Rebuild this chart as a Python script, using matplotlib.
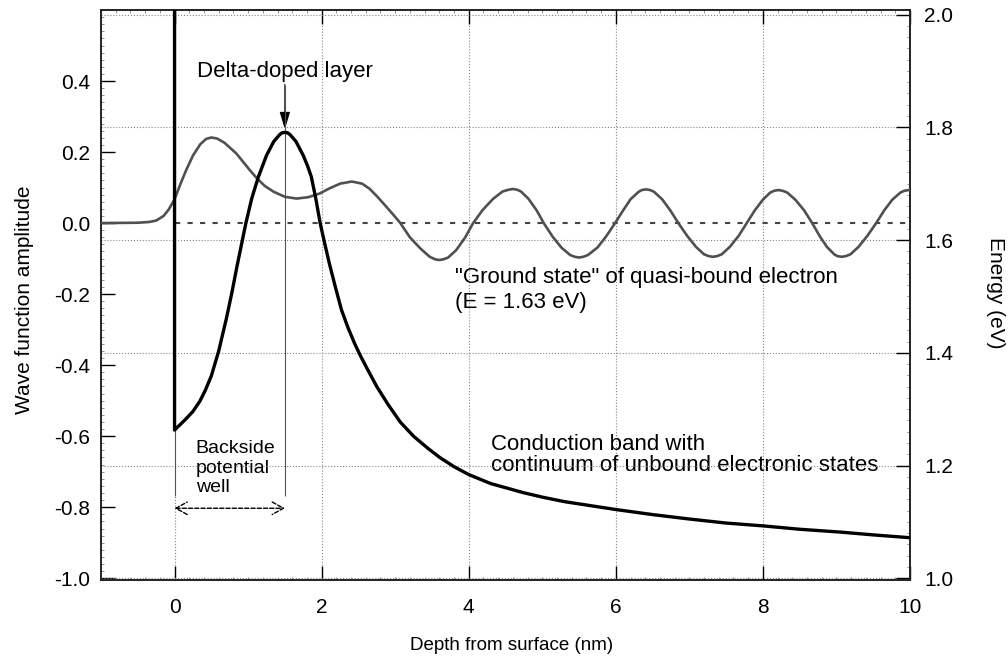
import matplotlib
matplotlib.use('Agg')
import matplotlib.pyplot as plt
from matplotlib.ticker import MultipleLocator

plt.rcParams['font.family'] = ['Liberation Sans', 'DejaVu Sans']
plt.rcParams['axes.unicode_minus'] = False

# wave function of the quasi-bound state (left axis)
wave_x = [-1.0, -0.5, -0.35, -0.25, -0.15, -0.08, 0.0, 0.08, 0.16, 0.25, 0.35, 0.43,
          0.5, 0.58, 0.68, 0.76, 0.84, 0.93, 1.02, 1.12, 1.23, 1.35, 1.5, 1.66, 1.82,
          1.97, 2.1, 2.25, 2.41, 2.55, 2.65, 2.75, 2.85, 2.96, 3.07,
          3.2, 3.34, 3.47, 3.543, 3.6, 3.657, 3.72, 3.83, 3.95, 4.06,
          4.19, 4.33, 4.46, 4.543, 4.6, 4.657, 4.71, 4.81, 4.92, 5.02,
          5.14, 5.26, 5.38, 5.443, 5.5, 5.557, 5.62, 5.75, 5.87, 5.99,
          6.1, 6.2, 6.31, 6.353, 6.41, 6.467, 6.52, 6.63, 6.74, 6.85,
          6.97, 7.09, 7.2, 7.263, 7.32, 7.377, 7.44, 7.55, 7.67, 7.78,
          7.89, 8.0, 8.1, 8.153, 8.21, 8.267, 8.33, 8.44, 8.56, 8.67,
          8.77, 8.87, 8.97, 9.013, 9.07, 9.127, 9.19, 9.3, 9.42, 9.54,
          9.65, 9.76, 9.87, 9.923, 9.98, 10.0]
wave_amp = [0.0, 0.001, 0.003, 0.007, 0.02, 0.038, 0.067, 0.11, 0.15, 0.19, 0.222, 0.237,
            0.241, 0.238, 0.226, 0.211, 0.196, 0.173, 0.15, 0.126, 0.104, 0.088, 0.074, 0.069, 0.073,
            0.083, 0.097, 0.111, 0.117, 0.111, 0.097, 0.076, 0.053, 0.027, 0.0,
            -0.04, -0.071, -0.095, -0.102, -0.104, -0.102, -0.097, -0.076, -0.041, 0.0,
            0.037, 0.068, 0.089, 0.094, 0.096, 0.094, 0.089, 0.069, 0.037, 0.0,
            -0.038, -0.069, -0.09, -0.095, -0.097, -0.095, -0.09, -0.069, -0.037, 0.0,
            0.036, 0.067, 0.088, 0.093, 0.095, 0.093, 0.088, 0.067, 0.036, 0.0,
            -0.036, -0.067, -0.088, -0.093, -0.095, -0.093, -0.088, -0.067, -0.036, 0.0,
            0.036, 0.066, 0.086, 0.091, 0.093, 0.091, 0.086, 0.066, 0.036, 0.0,
            -0.036, -0.067, -0.088, -0.093, -0.095, -0.093, -0.088, -0.067, -0.036, 0.0,
            0.036, 0.066, 0.086, 0.091, 0.093, 0.093]

# conduction band edge (right axis, eV)
band_x = [0.0, 0.0, 0.15, 0.25, 0.344, 0.42, 0.5, 0.6, 0.707, 0.78, 0.85, 0.91, 0.97,
          1.05, 1.14, 1.25, 1.35, 1.43, 1.46, 1.5, 1.54, 1.57, 1.65, 1.75, 1.81, 1.86,
          1.92, 1.98, 2.04, 2.1, 2.18, 2.27, 2.36, 2.45, 2.53, 2.61, 2.75, 2.9, 3.07,
          3.25, 3.45, 3.61, 3.8, 4.0, 4.3, 4.74, 5.0, 5.3, 5.6, 6.0, 6.5, 7.01, 7.5,
          8.0, 8.5, 9.05, 9.5, 10.0]
band_energy = [2.05, 1.263, 1.282, 1.296, 1.314, 1.334, 1.359, 1.403, 1.462, 1.507, 1.554,
               1.592, 1.630, 1.674, 1.712, 1.750, 1.775, 1.787, 1.790, 1.791, 1.790, 1.787,
               1.775, 1.750, 1.731, 1.712, 1.674, 1.630, 1.595, 1.561, 1.520, 1.476, 1.444,
               1.416, 1.394, 1.374, 1.340, 1.309, 1.277, 1.252, 1.230, 1.214, 1.198, 1.184,
               1.168, 1.152, 1.144, 1.136, 1.130, 1.122, 1.113, 1.105, 1.098, 1.093, 1.087,
               1.082, 1.077, 1.072]

left_ticks = [-1.0, -0.8, -0.6, -0.4, -0.2, 0.0, 0.2, 0.4]
energy_ticks = [1.0, 1.2, 1.4, 1.6, 1.8, 2.0]
depth_ticks = [0, 2, 4, 6, 8, 10]

ground_state_E = 1.63
delta_layer_x = 1.5
well_bottom = -0.583

fig = plt.figure(figsize=(10.08, 6.68), dpi=100)
ax = fig.add_axes([101 / 1008, 1 - 580 / 668, 809 / 1008, 570 / 668])
ax2 = ax.twinx()

ax.set_xlim(-1, 10)
ax.set_ylim(-1.005, 0.600)
ax2.set_ylim(0.997, 2.008)

ax.set_xticks(depth_ticks)
ax.set_yticks(left_ticks)
ax2.set_yticks(energy_ticks)
ax.xaxis.set_minor_locator(MultipleLocator(0.2))
ax.yaxis.set_minor_locator(MultipleLocator(0.02))
ax2.yaxis.set_minor_locator(MultipleLocator(0.02))

ax.tick_params(axis='both', which='major', direction='in', length=10, width=1,
               labelsize=15, top=True, right=False)
ax.tick_params(axis='x', which='major', pad=13)
ax.tick_params(axis='y', which='major', pad=8)
ax.tick_params(which='minor', direction='in', length=2.5, width=0.5, color='#666666',
               top=True, right=False)
ax2.tick_params(axis='y', which='major', direction='in', length=10, width=1,
                labelsize=15, pad=10)
ax2.tick_params(axis='y', which='minor', direction='in', length=2.5, width=0.5,
                color='#666666')

ax.grid(axis='x', which='major', linestyle=':', color='#888888', linewidth=0.8)
ax2.grid(axis='y', which='major', linestyle=':', color='#888888', linewidth=0.8)
ax2.set_axisbelow(True)

for a in (ax, ax2):
    for s in a.spines.values():
        s.set_linewidth(1.2)
        s.set_color('#222222')

# curves
ax2.plot(wave_x, wave_amp, color='#505050', linewidth=1.9, transform=ax.transData,
         zorder=3, solid_joinstyle='round')
ax2.plot(band_x, band_energy, color='black', linewidth=2.4, zorder=4,
         solid_joinstyle='round')
ax2.hlines(ground_state_E, 0, 10, colors='#444444', linestyles=(0, (2.5, 3.5)),
           linewidth=1.5, zorder=2)

# marker lines and arrows
ax2.vlines(delta_layer_x, -0.768, 0.39, colors='#555555', linewidth=0.8,
           transform=ax.transData, zorder=2)
ax2.vlines(0, -0.768, well_bottom, colors='#555555', linewidth=0.8,
           transform=ax.transData, zorder=2)
ax.annotate('', xy=(delta_layer_x, 0.264), xytext=(delta_layer_x, 0.39),
            arrowprops=dict(arrowstyle='-|>,head_length=0.6,head_width=0.18',
                            color='black', lw=0.8, mutation_scale=18,
                            shrinkA=0, shrinkB=0))
ax.annotate('', xy=(delta_layer_x, -0.803), xytext=(0, -0.803),
            arrowprops=dict(arrowstyle='<->,head_length=0.45,head_width=0.25',
                            color='black', lw=1.0, linestyle=(0, (3, 1.5)),
                            mutation_scale=18, shrinkA=0, shrinkB=0))

ax.text(0.31, 0.426, 'Delta-doped layer', fontsize=16, ha='left', va='center')
ax.text(3.81, -0.189, '"Ground state" of quasi-bound electron\n(E = 1.63 eV)',
        fontsize=16, ha='left', va='center', linespacing=1.25)
ax.text(4.30, -0.653, 'Conduction band with\ncontinuum of unbound electronic states',
        fontsize=16, ha='left', va='center', linespacing=1.05)
ax.text(0.286, -0.69, 'Backside\npotential\nwell', fontsize=14, ha='left', va='center',
        linespacing=1.2)

fig.text(512 / 1008, 1 - 645 / 668, 'Depth from surface (nm)', fontsize=13.5,
         ha='center', va='center')
fig.text(25 / 1008, 1 - 300 / 668, 'Wave function amplitude', fontsize=15,
         ha='center', va='center', rotation=90)
fig.text(995 / 1008, 1 - 293 / 668, 'Energy (eV)', fontsize=15,
         ha='center', va='center', rotation=270)

fig.savefig('out.png', dpi=100)
